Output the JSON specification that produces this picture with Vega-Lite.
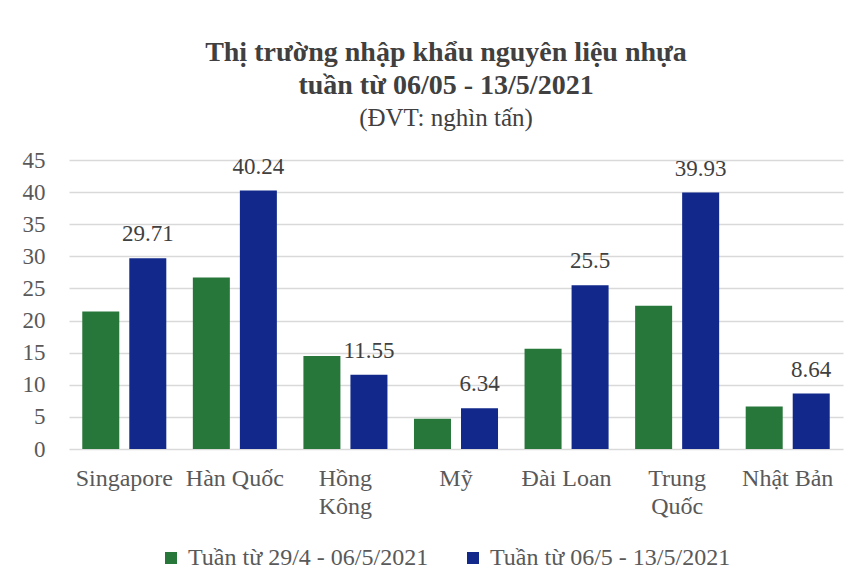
{
  "$schema": "https://vega.github.io/schema/vega-lite/v6.json",
  "width": 774,
  "height": 289,
  "autosize": {"type": "none"},
  "padding": {"left": 69, "top": 160, "right": 15, "bottom": 137},
  "background": "white",
  "title": {
    "text": ["Thị trường nhập khẩu nguyên liệu nhựa", "tuần từ 06/05 - 13/5/2021"],
    "subtitle": "(ĐVT: nghìn tấn)",
    "anchor": "middle",
    "frame": "group",
    "dx": -10,
    "offset": 18,
    "font": "Liberation Serif",
    "fontSize": 28,
    "fontWeight": "bold",
    "color": "#404040",
    "lineHeight": 33,
    "subtitleFont": "Liberation Serif",
    "subtitleFontSize": 25,
    "subtitleColor": "#404040",
    "subtitlePadding": 6
  },
  "data": {
    "values": [
      {"country": "Singapore", "series": "Tuần từ 29/4 - 06/5/2021", "value": 21.4},
      {"country": "Singapore", "series": "Tuần từ 06/5 - 13/5/2021", "value": 29.71},
      {"country": "Hàn Quốc", "series": "Tuần từ 29/4 - 06/5/2021", "value": 26.7},
      {"country": "Hàn Quốc", "series": "Tuần từ 06/5 - 13/5/2021", "value": 40.24},
      {"country": "Hồng Kông", "series": "Tuần từ 29/4 - 06/5/2021", "value": 14.5},
      {"country": "Hồng Kông", "series": "Tuần từ 06/5 - 13/5/2021", "value": 11.55},
      {"country": "Mỹ", "series": "Tuần từ 29/4 - 06/5/2021", "value": 4.7},
      {"country": "Mỹ", "series": "Tuần từ 06/5 - 13/5/2021", "value": 6.34},
      {"country": "Đài Loan", "series": "Tuần từ 29/4 - 06/5/2021", "value": 15.6},
      {"country": "Đài Loan", "series": "Tuần từ 06/5 - 13/5/2021", "value": 25.5},
      {"country": "Trung Quốc", "series": "Tuần từ 29/4 - 06/5/2021", "value": 22.3},
      {"country": "Trung Quốc", "series": "Tuần từ 06/5 - 13/5/2021", "value": 39.93},
      {"country": "Nhật Bản", "series": "Tuần từ 29/4 - 06/5/2021", "value": 6.6},
      {"country": "Nhật Bản", "series": "Tuần từ 06/5 - 13/5/2021", "value": 8.64}
    ]
  },
  "encoding": {
    "x": {
      "field": "country",
      "type": "nominal",
      "sort": null,
      "scale": {"paddingInner": 0.24, "paddingOuter": 0.12},
      "axis": {
        "title": null,
        "labelAngle": 0,
        "domain": false,
        "ticks": false,
        "labelFont": "Liberation Serif",
        "labelFontSize": 24,
        "labelColor": "#595959",
        "labelPadding": 17,
        "labelLineHeight": 28,
        "labelBaseline": "top",
        "labelLimit": 0,
        "labelExpr": "datum.value == 'Hồng Kông' || datum.value == 'Trung Quốc' ? split(datum.value, ' ') : datum.value"
      }
    },
    "xOffset": {
      "field": "series",
      "type": "nominal",
      "sort": ["Tuần từ 29/4 - 06/5/2021", "Tuần từ 06/5 - 13/5/2021"],
      "scale": {"paddingInner": 0.213, "paddingOuter": 0}
    },
    "y": {
      "field": "value",
      "type": "quantitative",
      "scale": {"domain": [0, 45], "nice": false},
      "axis": {
        "title": null,
        "values": [0, 5, 10, 15, 20, 25, 30, 35, 40, 45],
        "domain": false,
        "ticks": false,
        "labelFont": "Liberation Serif",
        "labelFontSize": 23,
        "labelColor": "#595959",
        "labelPadding": 24,
        "gridColor": "#d9d9d9",
        "gridWidth": 1.5
      }
    }
  },
  "layer": [
    {
      "mark": {"type": "bar"},
      "encoding": {
        "color": {
          "field": "series",
          "type": "nominal",
          "sort": ["Tuần từ 29/4 - 06/5/2021", "Tuần từ 06/5 - 13/5/2021"],
          "scale": {"range": ["#28773A", "#12298B"]},
          "legend": {
            "title": null,
            "orient": "none",
            "direction": "horizontal",
            "legendX": 90,
            "legendY": 386,
            "symbolType": "square",
            "symbolSize": 144,
            "symbolStrokeWidth": 0,
            "labelFont": "Liberation Serif",
            "labelFontSize": 24,
            "labelColor": "#595959",
            "labelOffset": 5,
            "labelLimit": 0,
            "columnPadding": 32
          }
        }
      }
    },
    {
      "transform": [{"filter": "datum.series == 'Tuần từ 06/5 - 13/5/2021'"}],
      "mark": {
        "type": "text",
        "baseline": "alphabetic",
        "dy": -17,
        "font": "Liberation Serif",
        "fontSize": 23,
        "color": "#404040"
      },
      "encoding": {
        "text": {"field": "value", "type": "quantitative"}
      }
    }
  ],
  "config": {
    "view": {"stroke": null}
  }
}
